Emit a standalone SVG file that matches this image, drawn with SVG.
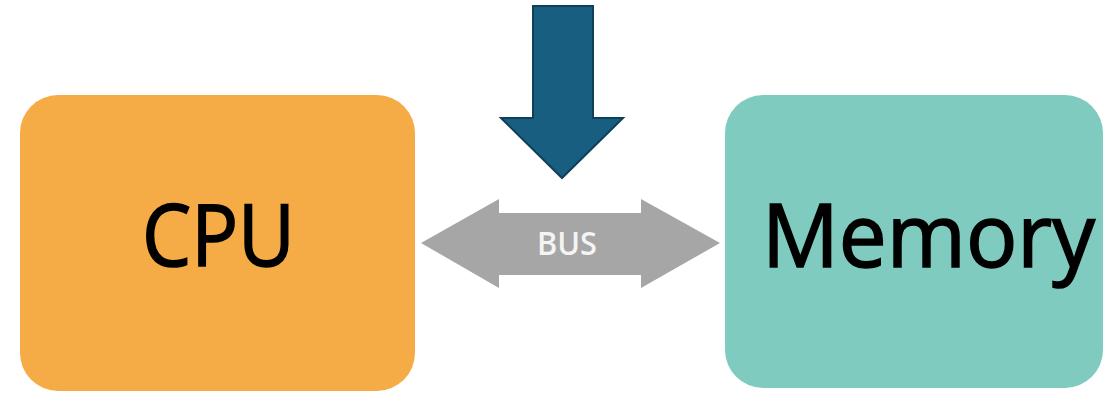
<svg xmlns="http://www.w3.org/2000/svg" width="1105" height="393" viewBox="0 0 1105 393">
<style>
.lbl{font-family:"Open Sans","Liberation Sans",sans-serif;fill:#000;stroke:#000;stroke-width:1.6}
.bus{font-family:"Open Sans","Liberation Sans",sans-serif;font-weight:600;fill:#f4f4f4}
</style>
<rect width="1105" height="393" fill="#ffffff"/>
<g id="cpu">
<rect x="20" y="95" width="395" height="296" rx="38" ry="38" fill="#f5ac46"/>
<text class="lbl" x="142" y="266" font-size="86" textLength="153" lengthAdjust="spacingAndGlyphs">CPU</text>
</g>
<g id="memory">
<rect x="725" y="95" width="378" height="293" rx="38" ry="38" fill="#80cbbf"/>
<text class="lbl" x="762" y="267" font-size="87" textLength="333" lengthAdjust="spacingAndGlyphs">Memory</text>
</g>
<g id="connectors">
<g id="bus">
<polygon points="421,243 499,199 499,213 641,213 641,199 720,243 641,288 641,275 499,275 499,288" fill="#a6a6a6"/>
<text class="bus" x="567" y="255" font-size="32" text-anchor="middle" textLength="60" lengthAdjust="spacingAndGlyphs">BUS</text>
</g>
<polygon id="down-arrow" points="533,6 593,6 593,118 623,118 562,178 501,118 533,118" fill="#175e80" stroke="#0f405a" stroke-width="2" stroke-linejoin="miter"/>
</g>
</svg>
